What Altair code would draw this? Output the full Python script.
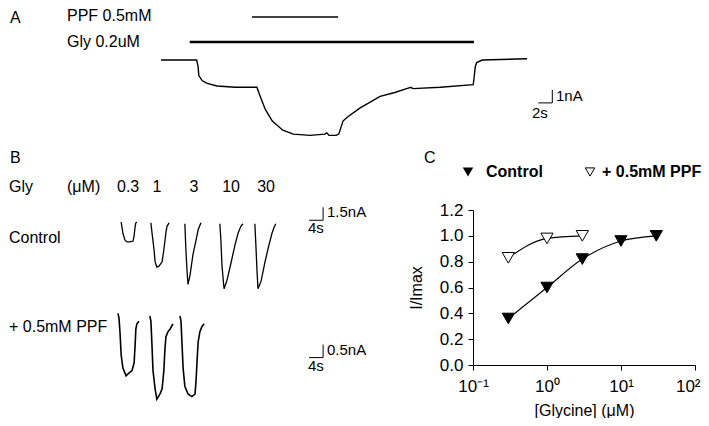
import altair as alt
import pandas as pd

FONT = "Liberation Sans"

# ---------------- Panel A : whole-cell current (s, nA) ----------------
A_t = [0, 5.1, 5.3, 5.4, 5.9, 6.6, 8.0, 10.6, 13.7, 14.1, 14.9, 15.9, 17.4, 18.9, 21.3, 23.4, 23.7, 24.0,
       25.0, 25.4, 25.7, 26.0, 26.6, 28.4, 31.3, 33.4, 35.1, 35.7, 36.0, 39.9, 44.6, 44.7, 44.9, 45.1, 45.9, 52.3]
A_i = [0, 0, -0.5, -1.2, -1.6, -1.8, -2.0, -2.1, -2.1, -2.7, -3.8, -4.7, -5.4, -5.7, -5.8, -5.7, -5.6, -5.8,
       -5.8, -5.7, -5.2, -4.7, -4.4, -3.7, -2.8, -2.5, -2.2, -2.1, -2.2, -2.1, -1.9, -1.5, -0.5, -0.2, 0, 0.1]
PPF_ON, PPF_OFF = 13.0, 25.3
GLY_ON, GLY_OFF = 4.1, 44.7
A_BAR_T = [53.9, 55.9, 55.9]
A_BAR_I = [-3.3, -3.3, -2.3]

# ---------------- Panel B : control traces (s, nA) ----------------
GLY_CONC = ["0.3", "1", "3", "10", "30"]
GLY_LABEL_T = [2.9, 11.1, 21.7, 32.3, 42.3]
c03_t = [0.9, 1.1, 1.4, 2.0, 2.6, 3.4, 4.3, 4.6, 4.9, 5.1, 5.4]
c03_i = [0, -0.5, -1.3, -2.1, -2.3, -2.3, -2.2, -1.6, -0.5, -0.1, 0]
c1_t = [9.4, 9.7, 10.3, 10.6, 11.1, 11.7, 12.6, 13.1, 13.7, 14.0, 14.6]
c1_i = [-0.1, -1.2, -3.2, -4.6, -5.2, -5.1, -4.6, -3.2, -1.2, -0.5, -0.1]
c3_t = [19.1, 19.4, 19.7, 20.0, 20.6, 21.4, 22.3, 22.9, 23.7]
c3_i = [-0.2, -3.2, -5.5, -7.2, -6.1, -3.8, -2.1, -0.9, -0.1]
c10_t = [29.1, 29.4, 29.7, 30.3, 31.1, 32.3, 33.4, 34.3, 35.1, 35.7]
c10_i = [-0.2, -2.1, -5.0, -7.7, -6.8, -4.7, -2.7, -1.3, -0.5, -0.2]
c30_t = [39.1, 39.4, 39.7, 40.0, 40.9, 42.0, 43.1, 44.0, 44.6, 45.1]
c30_i = [-0.2, -2.7, -5.5, -7.7, -6.8, -4.6, -2.7, -1.3, -0.6, -0.2]
BC_BAR_T = [54.6, 58.6, 58.6]
BC_BAR_I = [0.2, 0.2, 1.7]

# ---------------- Panel B : + 0.5 mM PPF traces (s, nA) ----------------
p03_t = [0, 0.3, 0.6, 0.9, 1.4, 2.3, 3.1, 4.0, 4.6, 4.9, 5.1, 5.4, 6.0]
p03_i = [0.1, -0.1, -0.7, -1.5, -2.0, -2.3, -2.2, -2.1, -1.8, -1.1, -0.5, -0.3, -0.2]
p1_t = [9.1, 9.4, 9.7, 10.0, 10.6, 11.1, 12.0, 12.6, 13.1, 13.4, 13.7, 14.3, 14.9, 15.7]
p1_i = [0.0, -0.2, -1.1, -2.1, -2.8, -3.2, -3.0, -2.8, -2.1, -1.3, -0.8, -0.6, -0.5, -0.3]
p3_t = [17.7, 18.0, 18.3, 18.6, 19.1, 20.0, 21.1, 22.0, 22.3, 22.6, 22.9, 23.4, 24.0, 24.6]
p3_i = [0.0, -0.2, -1.1, -2.0, -2.7, -3.0, -3.1, -3.0, -2.5, -1.7, -1.0, -0.6, -0.4, -0.3]
BP_BAR_T = [54.6, 58.6, 58.6]
BP_BAR_I = [-1.6, -1.6, -1.1]

# ---------------- Panel C : concentration-response ----------------
SERIES = ["Control", "+ 0.5mM PPF"]
conc_control = [0.3, 1, 3, 10, 30]
imax_control = [0.36, 0.60, 0.82, 0.96, 1.00]
err_control = [0.01, 0.02, 0.03, 0.01, 0.01]
conc_ppf = [0.3, 1, 3]
imax_ppf = [0.83, 0.98, 1.00]
err_ppf = [0.02, 0.01, 0.01]

W, H = 693, 410


def px(v):
    return v - 8


def lin(origin, per_unit, flip=False):
    o = px(origin)
    rng = [o, o - per_unit] if flip else [o, o + per_unit]
    return alt.Scale(domain=[0, 1], range=rng, nice=False, zero=False)


def trace_df(pairs, name_list):
    rows = []
    for name, (ts, vs) in zip(name_list, pairs):
        for k, (t, v) in enumerate(zip(ts, vs)):
            rows.append({"t": t, "i": v, "trace": name, "k": k})
    return pd.DataFrame(rows)


def label(text, x, y, size=16, weight="normal", align="left"):
    return alt.Chart(alt.Data(values=[{}])).mark_text(
        text=text, font=FONT, fontSize=size, fontWeight=weight, align=align,
        baseline="middle", color="black"
    ).encode(x=alt.value(px(x)), y=alt.value(px(y)))


def lines(df, sx, sy, width=1.2):
    return alt.Chart(df).mark_line(color="black", strokeWidth=width).encode(
        x=alt.X("t:Q", scale=sx, axis=None),
        y=alt.Y("i:Q", scale=sy, axis=None),
        detail="trace:N",
        order="k:Q",
    )


# scales (per panel)
AX, AY = lin(161, 7), lin(60, 13, flip=True)
BCX, BCY = lin(118, 3.5), lin(222, 13 / 1.5, flip=True)
BPX, BPY = lin(118, 3.5), lin(316, 26, flip=True)

layers = []

# ---- A ----
layers.append(lines(trace_df([(A_t, A_i)], ["A"]), AX, AY, 1.4))
layers.append(lines(trace_df([(A_BAR_T, A_BAR_I)], ["bar"]), AX, AY, 1.0))
for on, off, yy, sw in [(PPF_ON, PPF_OFF, 17, 1.3), (GLY_ON, GLY_OFF, 42, 2.4)]:
    layers.append(
        alt.Chart(pd.DataFrame({"on": [on], "off": [off]})).mark_rule(color="black", strokeWidth=sw).encode(
            x=alt.X("on:Q", scale=AX, axis=None), x2="off:Q", y=alt.value(px(yy))
        )
    )
layers += [
    label("A", 10, 18),
    label("PPF 0.5mM", 67, 16),
    label("Gly 0.2uM", 67, 42),
    label("1nA", 556, 96, 15),
    label("2s", 532, 113, 15),
]

# ---- B ----
ctrl = trace_df([(c03_t, c03_i), (c1_t, c1_i), (c3_t, c3_i), (c10_t, c10_i), (c30_t, c30_i)], GLY_CONC)
ppf = trace_df([(p03_t, p03_i), (p1_t, p1_i), (p3_t, p3_i)], GLY_CONC[:3])
layers.append(lines(ctrl, BCX, BCY, 1.3))
layers.append(lines(trace_df([(BC_BAR_T, BC_BAR_I)], ["bar"]), BCX, BCY, 1.0))
layers.append(lines(ppf, BPX, BPY, 1.6))
layers.append(lines(trace_df([(BP_BAR_T, BP_BAR_I)], ["bar"]), BPX, BPY, 1.0))
layers.append(
    alt.Chart(pd.DataFrame({"t": GLY_LABEL_T, "lab": GLY_CONC})).mark_text(
        font=FONT, fontSize=16, align="center", baseline="middle", color="black"
    ).encode(x=alt.X("t:Q", scale=BCX, axis=None), y=alt.value(px(187)), text="lab:N")
)
layers += [
    label("B", 10, 158),
    label("Gly", 9, 187),
    label("(\u03bcM)", 67, 187),
    label("Control", 9, 238),
    label("+ 0.5mM PPF", 9, 327),
    label("1.5nA", 327, 212, 15),
    label("4s", 308, 228, 15),
    label("0.5nA", 327, 350, 15),
    label("4s", 308, 366, 15),
]

# ---- C ----
cdf = pd.concat([
    pd.DataFrame({"conc": conc_control, "imax": imax_control, "err": err_control, "series": SERIES[0]}),
    pd.DataFrame({"conc": conc_ppf, "imax": imax_ppf, "err": err_ppf, "series": SERIES[1]}),
], ignore_index=True)

CX = alt.Scale(type="log", domain=[0.1, 100], range=[px(473), px(695)], nice=False)
CY = alt.Scale(domain=[0, 1.2], range=[px(365), px(210)], nice=False, zero=False)
fill_scale = alt.Scale(domain=SERIES, range=["black", "white"])

axis_common = dict(
    grid=False, domainColor="black", tickColor="black", labelColor="black", titleColor="black",
    labelFont=FONT, titleFont=FONT, labelFontSize=17, titleFontSize=16, titleFontWeight="normal",
    tickSize=5, domainWidth=1, tickWidth=1,
)
x_axis = alt.Axis(
    orient="bottom", offset=-(H - px(365)), values=[0.1, 1, 10, 100],
    labelExpr="datum.value < 0.5 ? '10\u207b\u00b9' : datum.value < 5 ? '10\u2070' : datum.value < 50 ? '10\u00b9' : '10\u00b2'",
    labelAlign={"condition": {"test": "datum.value > 50", "value": "right"}, "value": "center"},
    labelOffset={"condition": {"test": "datum.value > 50", "value": 5}, "value": 0},
    title="[Glycine] (\u03bcM)", labelPadding=8, titlePadding=8, labelFlush=False, **axis_common
)
y_axis = alt.Axis(
    orient="left", offset=-px(473), values=[0, 0.2, 0.4, 0.6, 0.8, 1.0, 1.2], format=".1f",
    title="I/Imax", labelPadding=5, titlePadding=15, labelFlush=False, **axis_common
)

base = alt.Chart(cdf)
layers.append(
    base.mark_line(color="black", strokeWidth=1.1, interpolate="monotone").encode(
        x=alt.X("conc:Q", scale=CX, axis=x_axis),
        y=alt.Y("imax:Q", scale=CY, axis=y_axis),
        detail="series:N",
    )
)
layers.append(
    base.transform_calculate(lo="datum.imax - datum.err", hi="datum.imax + datum.err").mark_rule(
        color="black", strokeWidth=1
    ).encode(x=alt.X("conc:Q", scale=CX, axis=None), y=alt.Y("lo:Q", scale=CY, axis=None), y2="hi:Q")
)
layers.append(
    base.transform_calculate(hi="datum.imax + datum.err").mark_tick(
        color="black", orient="horizontal", size=7, thickness=1
    ).encode(x=alt.X("conc:Q", scale=CX, axis=None), y=alt.Y("hi:Q", scale=CY, axis=None))
)
layers.append(
    base.mark_point(shape="triangle-down", filled=True, stroke="black", strokeWidth=1, size=150, opacity=1).encode(
        x=alt.X("conc:Q", scale=CX, axis=None),
        y=alt.Y("imax:Q", scale=CY, axis=None),
        fill=alt.Fill("series:N", scale=fill_scale, legend=None),
    )
)

# legend (manual) and panel letter
layers.append(
    alt.Chart(alt.Data(values=[{}])).mark_point(shape="triangle-down", filled=True, color="black", size=110, opacity=1)
    .encode(x=alt.value(px(468)), y=alt.value(px(172)))
)
layers.append(
    alt.Chart(alt.Data(values=[{}])).mark_point(shape="triangle-down", filled=True, color="white", stroke="black",
                                                strokeWidth=1, size=90, opacity=1)
    .encode(x=alt.value(px(590)), y=alt.value(px(172)))
)
layers += [
    label("C", 424, 158),
    label(SERIES[0], 486, 172, 16, "bold"),
    label(SERIES[1], 602, 172, 16, "bold"),
]

chart = alt.layer(*layers).resolve_scale(x="independent", y="independent").properties(
    width=W, height=H, padding=0, background="white", autosize=alt.AutoSizeParams(type="none")
).configure_view(stroke=None, strokeWidth=0)

chart.save("out.html", embed_options={"renderer": "svg", "actions": False})
